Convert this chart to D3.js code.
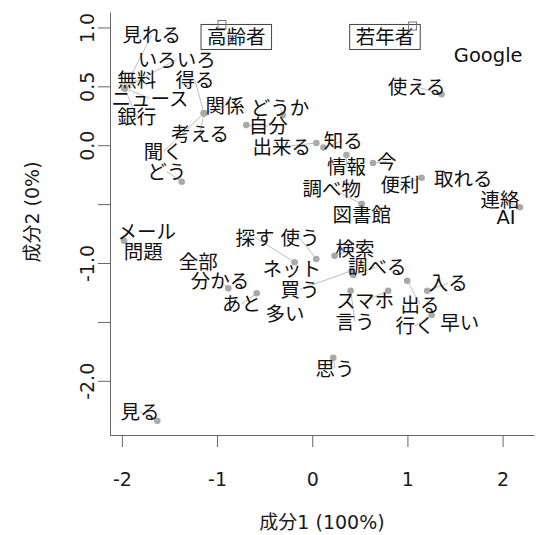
<!DOCTYPE html>
<html>
<head>
<meta charset="utf-8">
<script src="https://cdn.jsdelivr.net/npm/d3@7"></script>
<style>
body { margin: 0; background: #fff; }
text { font-family: "DejaVu Sans", "Noto Sans CJK JP", sans-serif; }
</style>
</head>
<body>
<div id="chart"></div>
<script>
// words: where the point is and where its label ended up
const words  = ["見れる","いろいろ","無料","ニュース","銀行","得る","関係","考える","聞く","どう",
                "自分","どうか","出来る","知る","情報","今","便利","取れる","調べ物","図書館",
                "連絡","AI","Google","使える","メール","問題","探す","使う","全部","ネット",
                "分かる","買う","あと","多い","検索","調べる","入る","スマホ","出る","言う",
                "行く","早い","思う","見る"];
const pointX = [-1.971,-1.971,-1.971,-1.971,-1.971,-1.138,-1.138,-1.138,-1.138,-1.372,
                -0.693,-0.308, 0.044, 0.118, 0.359, 0.638, 1.149, 1.586, 0.519, 0.519,
                 2.182, 2.035, 1.849, 1.359,-1.495,-1.978,-0.185, 0.042,-1.197,-0.216,
                -0.882, 0.414,-0.584,-0.287, 0.235, 0.431, 1.208, 0.798, 0.998, 0.403,
                 1.254, 1.551, 0.221,-1.628];
const pointY = [ 0.483, 0.483, 0.483, 0.483, 0.483, 0.271, 0.271, 0.271, 0.271,-0.310,
                 0.171, 0.256, 0.019,-0.020,-0.083,-0.151,-0.276,-0.281,-0.499,-0.499,
                -0.527,-0.607, 0.766, 0.432,-0.771,-0.811,-0.994,-0.966,-0.989,-1.045,
                -1.215,-1.065,-1.257,-1.427,-0.938,-1.102,-1.235,-1.235,-1.150,-1.235,
                -1.441,-1.507,-1.804,-2.339];
const labelX = [-1.687,-1.424,-1.845,-1.705,-1.845,-1.232,-0.917,-1.180,-1.565,-1.529,
                -0.462,-0.339,-0.321, 0.326, 0.361, 0.782, 0.921, 1.586, 0.204, 0.519,
                 1.972, 2.035, 1.849, 1.097,-1.740,-1.775,-0.602,-0.129,-1.197,-0.216,
                -0.970,-0.129,-0.742,-0.287, 0.449, 0.683, 1.429, 0.554, 1.131, 0.449,
                 1.079, 1.551, 0.238,-1.810];
const labelY = [ 0.935, 0.729, 0.553, 0.398, 0.242, 0.553, 0.333, 0.101,-0.055,-0.225,
                 0.163, 0.322,-0.013, 0.038,-0.183,-0.140,-0.338,-0.281,-0.366,-0.593,
                -0.459,-0.607, 0.766, 0.497,-0.734,-0.904,-0.782,-0.790,-0.989,-1.045,
                -1.153,-1.223,-1.348,-1.427,-0.875,-1.031,-1.172,-1.323,-1.351,-1.498,
                -1.535,-1.507,-1.894,-2.262];

// groups (boxed labels)
const groups  = ["高齢者","若年者"];
const groupX  = [-0.949, 1.053];
const groupY  = [ 1.025, 1.012];
const groupLX = [-0.798, 0.764];
const groupLY = [ 0.919, 0.919];

const xTicks = [-2, -1, 0, 1, 2];
const xTickLabels = ["-2", "-1", "0", "1", "2"];
const yTicks = [1, 0.5, 0, -0.5, -1, -1.5, -2];
const yTickLabels = ["1.0", "0.5", "0.0", "", "-1.0", "", "-2.0"];
const xTitle = "成分1 (100%)";
const yTitle = "成分2 (0%)";

const width = 537, height = 535;
const fontSize = 19.5;

const svg = d3.select("#chart").append("svg")
  .attr("width", width)
  .attr("height", height);

const x = d3.scaleLinear().domain([-2.125, 2.33]).range([110, 534]);
const y = d3.scaleLinear().domain([-2.46, 1.131]).range([435, 12]);

// X Axis
const gx = svg.append("g")
  .attr("transform", "translate(0,435)")
  .call(d3.axisBottom(x).tickValues(xTicks).tickSize(12).tickSizeOuter(0)
    .tickFormat((d, i) => xTickLabels[i]));
gx.selectAll("text")
  .attr("y", 51).attr("dy", 0)
  .style("font-size", "19px").attr("fill", "#1a1a1a");

// Y Axis
const gy = svg.append("g")
  .attr("transform", "translate(110,0)")
  .call(d3.axisLeft(y).tickValues(yTicks).tickSize(12).tickSizeOuter(0)
    .tickFormat((d, i) => yTickLabels[i]));
gy.selectAll("text")
  .attr("x", 0).attr("y", 0).attr("dy", 0)
  .attr("text-anchor", "middle")
  .attr("transform", "translate(-16,0) rotate(-90)")
  .style("font-size", "19px").attr("fill", "#1a1a1a");

svg.selectAll(".domain, .tick line").attr("stroke", "#666");

// titles
svg.append("text")
  .attr("x", 322).attr("y", 529)
  .attr("text-anchor", "middle")
  .style("font-size", "19px").attr("fill", "#1a1a1a")
  .text(xTitle);
svg.append("text")
  .attr("transform", "translate(39,212) rotate(-90)")
  .attr("text-anchor", "middle")
  .style("font-size", "19px").attr("fill", "#1a1a1a")
  .text(yTitle);

const linkLayer = svg.append("g");
const dotLayer = svg.append("g");

// word labels
const labels = svg.append("g")
  .selectAll("text")
  .data(words).enter()
  .append("text")
  .attr("x", (d, i) => x(labelX[i]))
  .attr("y", (d, i) => y(labelY[i]))
  .attr("dy", "0.37em")
  .attr("text-anchor", "middle")
  .style("font-size", fontSize + "px")
  .attr("fill", "#111")
  .text(d => d);

// lines + dots for labels that were pushed away from their point
labels.each(function (d, i) {
  const w = this.getComputedTextLength() * 0.85;
  const h = fontSize * 0.6;
  const px = x(pointX[i]), py = y(pointY[i]);
  const cx = x(labelX[i]), cy = y(labelY[i]);
  if (Math.abs(px - cx) > w / 2 || Math.abs(py - cy) > h / 2) {
    linkLayer.append("line")
      .attr("x1", px).attr("y1", py)
      .attr("x2", cx).attr("y2", cy)
      .attr("stroke", "#bebebe").attr("stroke-width", 1);
    dotLayer.append("circle")
      .attr("cx", px).attr("cy", py)
      .attr("r", 3.3)
      .attr("fill", "#a9a9a9");
  }
});

// group boxes
const gg = svg.append("g");
groups.forEach((g, i) => {
  const t = gg.append("text")
    .attr("x", x(groupLX[i]))
    .attr("y", y(groupLY[i]))
    .attr("dy", "0.37em")
    .attr("text-anchor", "middle")
    .style("font-size", fontSize + "px")
    .attr("fill", "#111")
    .text(g);
  const w = t.node().getComputedTextLength();
  gg.insert("rect", "text")
    .attr("x", x(groupLX[i]) - w / 2 - 6)
    .attr("y", y(groupLY[i]) - 12.5)
    .attr("width", w + 12)
    .attr("height", 25)
    .attr("fill", "#fff")
    .attr("stroke", "#444");
  gg.append("rect")
    .attr("x", x(groupX[i]) - 4)
    .attr("y", y(groupY[i]) - 4)
    .attr("width", 8).attr("height", 8)
    .attr("fill", "none")
    .attr("stroke", "#777");
});
</script>
</body>
</html>
